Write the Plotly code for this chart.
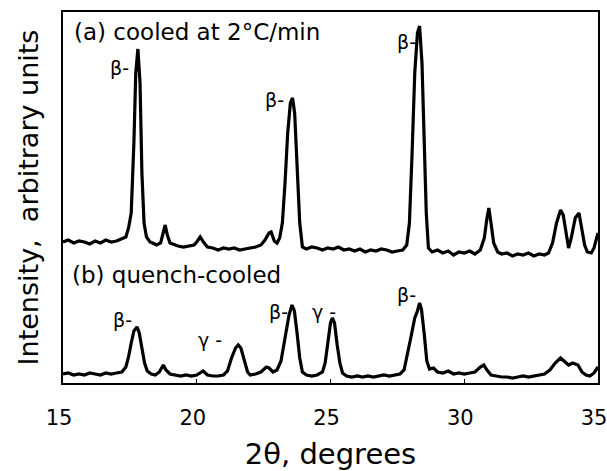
import plotly.graph_objects as go

# ---- data (2theta in degrees, intensity in arbitrary units) ----
two_theta_a = [15.0, 15.2, 15.4, 15.6, 15.8, 16.0, 16.2, 16.4, 16.6, 16.8, 17.0, 17.2, 17.35, 17.45,
               17.55, 17.65, 17.72, 17.8, 17.88, 17.95, 18.03, 18.12, 18.25, 18.35, 18.5, 18.65, 18.75,
               18.82, 18.9, 19.0, 19.1, 19.3, 19.5, 19.7, 19.9, 20.0, 20.13, 20.25, 20.4, 20.6, 20.8,
               21.0, 21.2, 21.4, 21.6, 21.8, 22.0, 22.2, 22.4, 22.55, 22.7, 22.78, 22.9, 23.0, 23.1,
               23.2, 23.3, 23.4, 23.5, 23.58, 23.66, 23.75, 23.85, 23.95, 24.1, 24.3, 24.5, 24.7, 24.9,
               25.1, 25.3, 25.5, 25.7, 25.9, 26.1, 26.3, 26.5, 26.7, 26.9, 27.1, 27.3, 27.5, 27.7,
               27.85, 27.95, 28.05, 28.15, 28.25, 28.33, 28.42, 28.5, 28.58, 28.66, 28.8, 29.0, 29.2,
               29.4, 29.6, 29.8, 30.0, 30.2, 30.4, 30.6, 30.75, 30.85, 30.92, 31.0, 31.1, 31.25, 31.4,
               31.6, 31.8, 32.0, 32.2, 32.4, 32.6, 32.8, 33.0, 33.15, 33.3, 33.45, 33.6, 33.7, 33.8,
               33.9, 34.0, 34.15, 34.29, 34.4, 34.5, 34.6, 34.75, 34.85, 35.0]
intensity_a = [141, 143, 140, 142, 141, 139, 142, 140, 143, 141, 142, 144, 146, 155,
               170, 240, 310, 334, 300, 210, 160, 146, 141, 140, 138, 140, 150,
               158, 148, 140, 139, 137, 136, 137, 138, 141, 146, 141, 136, 135, 133,
               135, 134, 135, 133, 134, 135, 136, 138, 143, 150, 151, 142, 140, 145,
               160, 200, 250, 280, 285, 270, 210, 160, 136, 134, 136, 135, 133, 135,
               134, 136, 133, 134, 132, 134, 131, 133, 132, 134, 133, 131, 132, 133,
               138, 160, 230, 310, 350, 357, 320, 240, 170, 135, 131, 133, 130,
               132, 128, 131, 130, 132, 129, 133, 145, 165, 175, 160, 140, 131, 129,
               130, 127, 129, 128, 130, 127, 129, 128, 130, 140, 160, 173, 168, 150,
               135, 145, 165, 170, 152, 138, 131, 130, 135, 150]

two_theta_b = [15.0, 15.2, 15.4, 15.6, 15.8, 16.0, 16.2, 16.4, 16.6, 16.8, 17.0, 17.2, 17.35, 17.45,
               17.55, 17.65, 17.77, 17.85, 17.95, 18.05, 18.15, 18.3, 18.45, 18.6, 18.75, 18.85,
               19.0, 19.2, 19.4, 19.6, 19.8, 20.0, 20.24, 20.4, 20.6, 20.8, 21.0, 21.15, 21.3,
               21.45, 21.55, 21.65, 21.75, 21.9, 22.0, 22.2, 22.4, 22.6, 22.7, 22.85, 23.0, 23.15,
               23.3, 23.45, 23.56, 23.65, 23.75, 23.85, 23.95, 24.1, 24.3, 24.5, 24.7, 24.8, 24.9,
               25.0, 25.07, 25.15, 25.25, 25.35, 25.45, 25.6, 25.8, 26.0, 26.2, 26.4, 26.6, 26.8,
               27.0, 27.2, 27.4, 27.6, 27.75, 27.85, 28.0, 28.15, 28.25, 28.33, 28.4, 28.5, 28.6,
               28.7, 28.85, 29.0, 29.2, 29.4, 29.6, 29.8, 30.0, 30.2, 30.4, 30.6, 30.73, 30.85,
               31.0, 31.2, 31.4, 31.6, 31.8, 32.0, 32.2, 32.4, 32.6, 32.8, 33.0, 33.2, 33.4, 33.6,
               33.75, 33.9, 34.05, 34.25, 34.4, 34.55, 34.7, 34.85, 35.0]
intensity_b = [9, 10, 8, 9, 8, 10, 9, 8, 10, 9, 10, 11, 16, 26,
               40, 52, 56, 50, 35, 20, 12, 9, 8, 11, 18, 13,
               9, 8, 7, 8, 7, 8, 12, 8, 7, 7, 8, 12, 25,
               35, 38, 35, 25, 11, 8, 9, 11, 16, 15, 11, 13, 22,
               45, 68, 78, 72, 50, 25, 11, 8, 7, 8, 11, 20, 40,
               60, 65, 60, 38, 20, 10, 7, 6, 7, 6, 7, 6, 7,
               8, 7, 8, 9, 13, 25, 45, 65, 72, 80, 74, 50, 22,
               14, 15, 11, 10, 12, 9, 10, 9, 10, 11, 16, 18, 13,
               8, 7, 6, 6, 5, 6, 7, 6, 7, 8, 9, 13, 20, 25,
               21, 18, 20, 18, 11, 8, 7, 10, 16]

x_ticks = [15, 20, 25, 30, 35]
x_tick_labels = ["15", "20", "25", "30", "35"]

panel_labels = ["(a) cooled at 2°C/min", "(b) quench-cooled"]
peak_labels = ["β-", "β-", "β-", "β-", "γ -", "β-", "γ -", "β-"]

FONT = "DejaVu Sans, Liberation Sans, Arial, sans-serif"

fig = go.Figure()
for xs, ys in [(two_theta_a, intensity_a), (two_theta_b, intensity_b)]:
    fig.add_trace(go.Scatter(x=xs, y=ys, mode="lines",
                             line=dict(color="black", width=3.2),
                             showlegend=False, hoverinfo="skip"))

# panel labels
panel_pos = [(15.34, 351), (15.26, 108)]
for txt, (px, py) in zip(panel_labels, panel_pos):
    fig.add_annotation(x=px, y=py, xref="x", yref="y", text=txt, showarrow=False,
                       xanchor="left", yanchor="middle",
                       font=dict(family=FONT, size=23, color="black"))

# peak labels (right edge, vertical middle)
peak_pos = [(17.55, 315), (23.33, 283), (28.28, 341),
            (17.64, 63), (21.02, 43), (23.5, 71), (25.28, 71), (28.28, 88)]
for txt, (px, py) in zip(peak_labels, peak_pos):
    fig.add_annotation(x=px, y=py, xref="x", yref="y", text=txt, showarrow=False,
                       xanchor="right", yanchor="middle",
                       font=dict(family=FONT, size=19, color="black"))

fig.update_layout(
    template="none",
    width=607, height=471,
    margin=dict(l=63, r=9, t=12, b=88),
    paper_bgcolor="white", plot_bgcolor="white",
    font=dict(family=FONT, color="black"),
    xaxis=dict(range=[15, 35], tickvals=x_ticks, ticktext=x_tick_labels,
               ticks="inside", ticklen=4, tickwidth=1, tickcolor="black",
               showline=True, linewidth=2, linecolor="black", mirror=True,
               showgrid=False, zeroline=False, automargin=False,
               tickfont=dict(family=FONT, size=21, color="black"),
               ticklabelstandoff=15, ticklabelshift=-4, ticklabeloverflow="allow",
               title=dict(text="2θ, degrees", font=dict(family=FONT, size=29, color="black"),
                          standoff=14)),
    yaxis=dict(range=[0, 371], showticklabels=False, ticks="",
               showline=True, linewidth=2, linecolor="black", mirror=True,
               showgrid=False, zeroline=False, automargin=False,
               title=dict(text="Intensity,\u00a0 arbitrary units",
                          font=dict(family=FONT, size=27, color="black"),
                          standoff=15)),
)

fig.write_html("out.html")
